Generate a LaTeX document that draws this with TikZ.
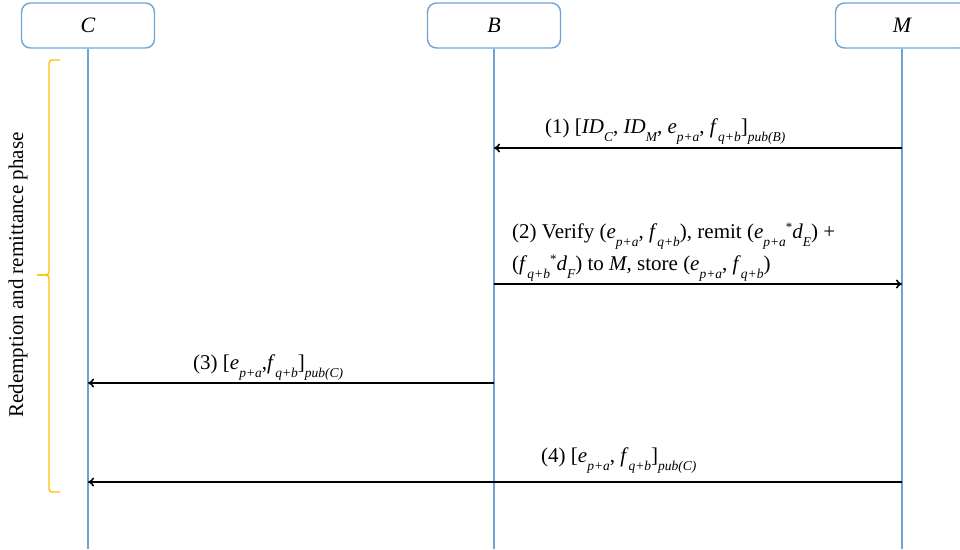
\documentclass[tikz,border=0pt]{standalone}
\usepackage{fontspec}
\setmainfont{Liberation Serif}
\usetikzlibrary{arrows.meta}
\definecolor{lifeblue}{HTML}{6FA3D8}
\definecolor{braceyellow}{HTML}{FFC000}
\newcommand{\lo}[1]{\raisebox{-0.4em}{\fontsize{13.5}{13.5}\selectfont\itshape #1}}
\newcommand{\up}[1]{\raisebox{0.3em}{\fontsize{13}{13}\selectfont #1}}
\begin{document}
\begin{tikzpicture}[x=1pt,y=-1pt,
  actor/.style={draw=lifeblue,line width=1.4pt,rounded corners=9pt,minimum width=133pt,minimum height=45pt,fill=white,inner sep=0pt,font=\fontsize{22}{22}\selectfont\itshape},
  life/.style={draw=lifeblue,line width=1.5pt},
  msg/.style={draw=black,line width=1.6pt,-{To[length=6pt,width=9pt]}},
  lbl/.style={anchor=base west,inner sep=0pt,font=\fontsize{21}{21}\selectfont,align=left}]
\useasboundingbox (0,0) rectangle (960,549);
\begin{scope}
\clip (0,0) rectangle (960,549);
% lifelines
\coordinate (Cb) at (88,549);
\coordinate (Bb) at (494,549);
\coordinate (Mb) at (902,549);
\node[actor] (C) at (88,25.5) {C};
\node[actor] (B) at (494,25.5) {B};
\node[actor] (M) at (902,25.5) {M};
\draw[life] (C.south) -- (Cb);
\draw[life] (B.south) -- (Bb);
\draw[life] (M.south) -- (Mb);
% message anchors
\coordinate (m1M) at (902,148); \coordinate (m1B) at (494,148);
\coordinate (m2B) at (494,284); \coordinate (m2M) at (902,284);
\coordinate (m3B) at (494,383); \coordinate (m3C) at (88,383);
\coordinate (m4M) at (902,482); \coordinate (m4C) at (88,482);
\draw[msg] (m1M) -- (m1B);
\draw[msg] (m2B) -- (m2M);
\draw[msg] (m3B) -- (m3C);
\draw[msg] (m4M) -- (m4C);
% labels
\node[lbl] (l1) at (545,133) {(1) [\textit{ID}\lo{C}, \textit{ID}\lo{M}, \textit{e}\lo{p+a}, \textit{f}\lo{q+b}]\lo{pub(B)}};
\node[lbl] (l2a) at (512,238) {(2) Verify (\textit{e}\lo{p+a}, \textit{f}\lo{q+b}), remit (\textit{e}\lo{p+a}\up{*}\textit{d}\lo{E}) +};
\node[lbl] (l2b) at (512,270) {(\textit{f}\lo{q+b}\up{*}\textit{d}\lo{F}) to \textit{M}, store (\textit{e}\lo{p+a}, \textit{f}\lo{q+b})};
\node[lbl] (l3) at (193,369) {(3) [\textit{e}\lo{p+a},\textit{f}\lo{q+b}]\lo{pub(C)}};
\node[lbl] (l4) at (541,462) {(4) [\textit{e}\lo{p+a}, \textit{f}\lo{q+b}]\lo{pub(C)}};
% brace
\draw[braceyellow,line width=1.4pt,rounded corners=3pt]
  (60,60) -- (49,60) -- (49,275) -- (37,275);
\draw[braceyellow,line width=1.4pt,rounded corners=3pt]
  (60,492) -- (49,492) -- (49,275) -- (37,275);
\node[rotate=90,inner sep=0pt,font=\fontsize{21}{21}\selectfont] (phase) at (18,275) {Redemption and remittance phase};
\end{scope}
\end{tikzpicture}
\end{document}
